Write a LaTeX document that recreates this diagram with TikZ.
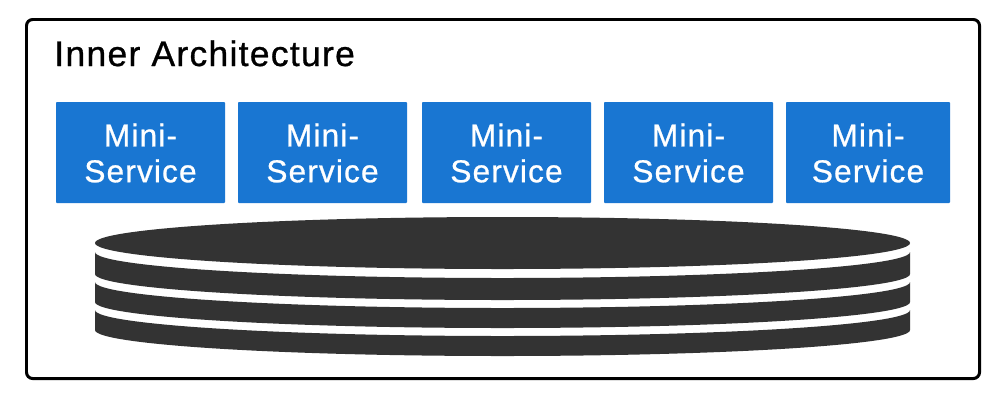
\documentclass[tikz,border=0pt]{standalone}
\usepackage{fontspec}
\setmainfont{Liberation Sans}[FakeBold=0.8,LetterSpace=3.6]
\definecolor{svcblue}{HTML}{1976D2}
\definecolor{discgrey}{HTML}{333333}
\tikzset{
  outerbox/.style={draw=black,line width=3*0.567pt,rounded corners=3.5pt,fill=white},
  svcbox/.style={fill=svcblue,rounded corners=0.5pt},
  svclabel/.style={text=white,align=center,font=\fontsize{18pt}{20.4pt}\selectfont,inner sep=0pt},
  disc/.style={fill=discgrey}
}
\begin{document}
\begin{tikzpicture}[x=0.02cm,y=-0.02cm]
    \useasboundingbox (0,0) rectangle (1000,400);
    \draw[outerbox](26.5,19.5) rectangle (979.5,378.5);
    \node[anchor=base west,inner sep=0pt,font=\fontsize{20.2pt}{24pt}\selectfont] (title) at (54,66) {Inner Architecture};
    \foreach \name/\xa/\xb in {a/56/225,b/238/407,c/422/591,d/604/773,e/786/950}{
        \fill[svcbox](\xa,102) rectangle (\xb,203);
        \node[svclabel] (svc\name) at ({(\xa+\xb)/2},153) {Mini-\\Service};
    }
    % top of the stack
    \fill[disc](502.5,243) ellipse[x radius=407.5,y radius=26];
    % three bands
    \foreach \ya/\yb in {252/274,282/302,310/330}{
        \fill[disc](95,\ya) arc[start angle=180,end angle=0,x radius=407.5,y radius=26]
            -- (910,\yb) arc[start angle=0,end angle=180,x radius=407.5,y radius=26] -- cycle;
    }
\end{tikzpicture}
\end{document}
